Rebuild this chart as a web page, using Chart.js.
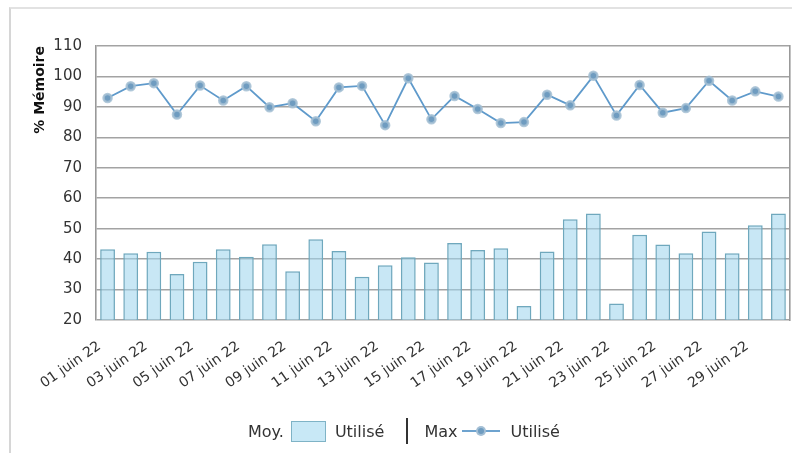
<!DOCTYPE html>
<html>
<head>
<meta charset="utf-8">
<script src="https://cdn.jsdelivr.net/npm/chart.js@4.4.0/dist/chart.umd.min.js"></script>
<style>
  html, body { margin: 0; padding: 0; background: #fff; }
  #wrap { position: relative; width: 792px; height: 453px; overflow: hidden; }
  #frame { position: absolute; left: 9px; top: 7px; width: 800px; height: 460px;
           border-top: 2px solid #e2e2e2; border-left: 2px solid #d6d6d6; }
  #memChart { position: absolute; left: 0; top: 0; }
  #legend { position: absolute; left: 248px; top: 418px; height: 26px;
            display: flex; align-items: center;
            font-family: "DejaVu Sans", sans-serif; font-size: 16px; color: #333; }
  #legend .box { width: 33px; height: 19px; margin: 0 9px 0 7px;
                 background: #c8e8f6; border: 1.5px solid #7fb3c6; }
  #legend .sep { width: 2px; height: 26px; background: #333; margin: 0 16px 0 22px; }
  #legend .line { position: relative; width: 38px; height: 10px; margin: 0 10px 0 5px; }
  #legend .line:before { content: ""; position: absolute; left: 0; right: 0; top: 4px;
                         height: 2px; background: #6ea3cf; }
  #legend .line:after { content: ""; position: absolute; left: 14px; top: 0; width: 6px; height: 6px;
                        border-radius: 50%; background: #6f9cc0; border: 2px solid rgba(170,195,215,0.9); }
</style>
</head>
<body>
<div id="wrap">
  <div id="frame"></div>
  <canvas id="memChart" width="792" height="453"></canvas>
  <div id="legend">
    <span>Moy.</span><span class="box"></span><span>Utilisé</span>
    <span class="sep"></span>
    <span>Max</span><span class="line"></span><span>Utilisé</span>
  </div>
</div>
<script>
var days = ['01 juin 22', '02 juin 22', '03 juin 22', '04 juin 22', '05 juin 22', '06 juin 22',
            '07 juin 22', '08 juin 22', '09 juin 22', '10 juin 22', '11 juin 22', '12 juin 22',
            '13 juin 22', '14 juin 22', '15 juin 22', '16 juin 22', '17 juin 22', '18 juin 22',
            '19 juin 22', '20 juin 22', '21 juin 22', '22 juin 22', '23 juin 22', '24 juin 22',
            '25 juin 22', '26 juin 22', '27 juin 22', '28 juin 22', '29 juin 22', '30 juin 22'];

// mémoire utilisée, moyenne journalière (%)
var avgUsed = [43.2, 41.9, 42.4, 35.1, 39.1, 43.2, 40.8, 44.9, 36.0, 46.5,
               42.7, 34.2, 38.0, 40.6, 38.9, 45.3, 43.0, 43.6, 24.6, 42.5,
               53.1, 55.0, 25.4, 48.0, 44.8, 41.9, 49.1, 41.9, 51.1, 55.0];

// mémoire utilisée, pic journalier (%)
var maxUsed = [92.9, 96.8, 97.8, 87.5, 97.0, 92.1, 96.8, 89.9, 91.2, 85.3,
               96.4, 96.9, 84.0, 99.4, 85.9, 93.6, 89.3, 84.7, 85.0, 94.0,
               90.5, 100.2, 87.2, 97.2, 88.1, 89.6, 98.6, 92.1, 95.1, 93.4];

var yMin = 20, yMax = 110, yStep = 10;

var tickFont = { family: 'DejaVu Sans', size: 15 };
var gridColor = '#a3a3a3';

var memChart = new Chart(document.getElementById('memChart'), {
  type: 'bar',
  data: {
    labels: days,
    datasets: [
      {
        type: 'line',
        label: 'Max Utilisé',
        data: maxUsed,
        order: 0,
        borderColor: '#5f9acb',
        borderWidth: 1.8,
        tension: 0,
        pointRadius: 4,
        pointHoverRadius: 4,
        pointBackgroundColor: '#6f9cc0',
        pointBorderColor: 'rgba(165,192,212,0.85)',
        pointBorderWidth: 2.5
      },
      {
        label: 'Moy. Utilisé',
        data: avgUsed,
        order: 1,
        backgroundColor: 'rgba(160,214,238,0.58)',
        borderColor: '#6fa8bd',
        borderWidth: 1.5,
        barPercentage: 0.64,
        categoryPercentage: 1
      }
    ]
  },
  options: {
    responsive: false,
    animation: false,
    events: [],
    layout: { autoPadding: false, padding: { left: 10, top: 46, right: 2, bottom: 0 } },
    plugins: {
      legend: { display: false },
      tooltip: { enabled: false }
    },
    scales: {
      x: {
        grid: { display: false },
        border: { display: false },
        ticks: {
          autoSkip: false,
          minRotation: 35,
          maxRotation: 35,
          padding: 10,
          labelOffset: -8,
          color: '#333',
          font: { family: 'DejaVu Sans', size: 14 },
          callback: function (v, i) { return i % 2 === 0 ? days[i] : ''; }
        },
        afterFit: function (s) {
          s.height = 133;
          s.paddingRight = 0;
        }
      },
      y: {
        min: yMin,
        max: yMax,
        ticks: { stepSize: yStep, padding: 14, color: '#333', font: tickFont },
        grid: { color: gridColor, lineWidth: 1.6, drawTicks: false },
        border: { color: '#999', width: 1.6 },
        title: {
          display: true,
          text: '% Mémoire',
          align: 'end',
          color: '#111',
          padding: { top: 22, bottom: 0 },
          font: { family: 'DejaVu Sans', size: 14, weight: 'bold' }
        },
        afterFit: function (s) { s.width = 86; }
      },
      yRight: {
        position: 'right',
        min: yMin,
        max: yMax,
        ticks: { display: false },
        grid: { display: false },
        border: { color: '#999', width: 1.6 },
        afterFit: function (s) { s.width = 0; }
      }
    }
  }
});
</script>
</body>
</html>
